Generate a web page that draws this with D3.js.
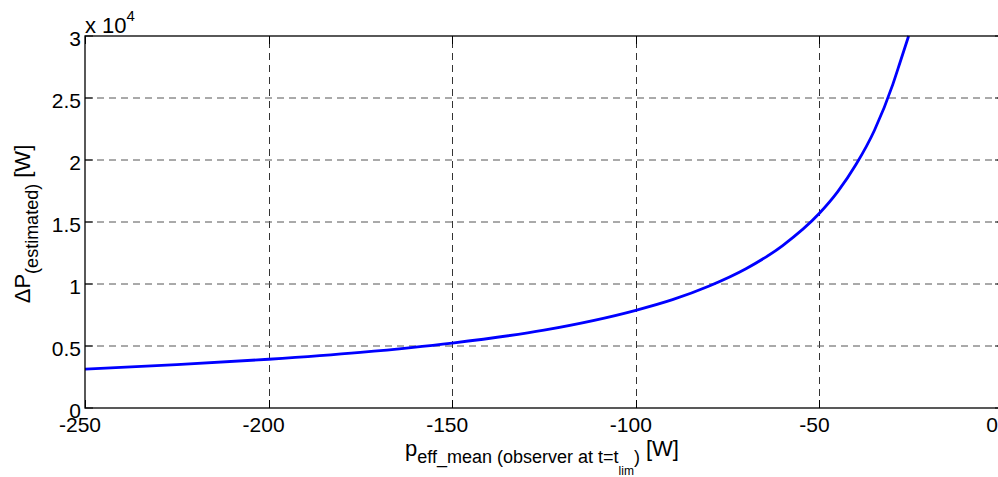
<!DOCTYPE html>
<html>
<head>
<meta charset="utf-8">
<script src="https://cdn.jsdelivr.net/npm/d3@7"></script>
<style>
  html, body { margin: 0; padding: 0; background: #fff; }
  svg { display: block; font-family: "Liberation Sans", Arial, sans-serif; }
</style>
</head>
<body>
<svg id="chart" width="998" height="477"></svg>
<script>
// Estimated power over the mean effective power seen by the observer
const pEffMean = [-250, -225, -200, -175, -150, -125, -100, -90, -80, -70, -60, -50, -45, -40, -35, -30, -28, -25.7];
const deltaP   = [3140, 3490, 3930, 4490, 5240, 6280, 7880, 8740, 9840, 11230, 13100, 15700, 17450, 19650, 22400, 26100, 27900, 30000];

const xTicks = [-250, -200, -150, -100, -50, 0];
const yTicks = [0, 5000, 10000, 15000, 20000, 25000, 30000];
const yTickLabels = ["0", "0.5", "1", "1.5", "2", "2.5", "3"];

const svg = d3.select("#chart");
const W = 998, H = 477;
const m = { left: 85, top: 36, right: 1003, bottom: 408 };

const x = d3.scaleLinear().domain([-250, 0]).range([m.left, m.right]);
const y = d3.scaleLinear().domain([0, 30000]).range([m.bottom, m.top]);

svg.append("rect").attr("width", W).attr("height", H).attr("fill", "#fff");

// dashed grid
const grid = svg.append("g");
grid.selectAll("line.vg").data(xTicks.slice(1, -1)).join("line")
  .attr("class", "vg")
  .attr("x1", d => Math.round(x(d)) + 0.5).attr("x2", d => Math.round(x(d)) + 0.5)
  .attr("y1", m.bottom).attr("y2", m.top)
  .attr("stroke", "#333").attr("stroke-width", 1).attr("stroke-dasharray", "7,5");
grid.selectAll("line.hg").data(yTicks.slice(1, -1)).join("line")
  .attr("class", "hg")
  .attr("y1", d => Math.round(y(d))).attr("y2", d => Math.round(y(d)))
  .attr("x1", m.left).attr("x2", m.right)
  .attr("stroke", "#555").attr("stroke-width", 1).attr("stroke-dasharray", "7,5");

// curve
const line = d3.line().x((d, i) => x(pEffMean[i])).y(d => y(d)).curve(d3.curveMonotoneX);
svg.append("path").datum(deltaP)
  .attr("d", line)
  .attr("fill", "none").attr("stroke", "#0000ff").attr("stroke-width", 2.8);

// axes box
const box = svg.append("g").attr("stroke", "#000").attr("stroke-width", 1.3).attr("fill", "none");
box.append("rect").attr("x", m.left).attr("y", m.top)
  .attr("width", m.right - m.left).attr("height", m.bottom - m.top);

// inward ticks
const tl = 8;
const ticks = svg.append("g").attr("stroke", "#000").attr("stroke-width", 1);
xTicks.forEach(t => {
  const px = Math.round(x(t)) + 0.5;
  ticks.append("line").attr("x1", px).attr("x2", px).attr("y1", m.bottom).attr("y2", m.bottom - tl);
  ticks.append("line").attr("x1", px).attr("x2", px).attr("y1", m.top).attr("y2", m.top + tl);
});
yTicks.forEach(t => {
  const py = Math.round(y(t));
  ticks.append("line").attr("y1", py).attr("y2", py).attr("x1", m.left).attr("x2", m.left + tl);
  ticks.append("line").attr("y1", py).attr("y2", py).attr("x1", m.right).attr("x2", m.right - tl);
});

// tick labels
const fs = 21;
svg.append("g").selectAll("text").data(xTicks).join("text")
  .attr("x", d => Math.min(x(d) - 5, 992)).attr("y", 432)
  .attr("text-anchor", "middle").attr("font-size", fs).attr("fill", "#000")
  .text(d => d);
svg.append("g").selectAll("text").data(yTicks).join("text")
  .attr("x", 81).attr("y", d => y(d) + 10)
  .attr("text-anchor", "end").attr("font-size", fs).attr("fill", "#000")
  .text((d, i) => yTickLabels[i]);

// exponent
const ex = svg.append("text").attr("x", 85).attr("y", 33).attr("font-size", 22).attr("fill", "#000");
ex.append("tspan").text("x 10");
ex.append("tspan").attr("dy", -12).attr("font-size", 15).text("4");

// x label
const xl = svg.append("text").attr("x", 542).attr("y", 456)
  .attr("text-anchor", "middle").attr("font-size", 22).attr("fill", "#000");
xl.append("tspan").text("p");
xl.append("tspan").attr("dy", 7).attr("font-size", 18).text("eff_mean (observer at t=t");
xl.append("tspan").attr("dy", 12).attr("font-size", 12).text("lim");
xl.append("tspan").attr("dy", -12).attr("font-size", 18).text(")");
xl.append("tspan").attr("dy", -7).text(" [W]");

// y label
const yl = svg.append("text")
  .attr("transform", "translate(30,224) rotate(-90)")
  .attr("text-anchor", "middle").attr("font-size", 22).attr("fill", "#000");
yl.append("tspan").text("ΔP");
yl.append("tspan").attr("dy", 8).attr("font-size", 18).text("(estimated)");
yl.append("tspan").attr("dy", -8).text(" [W]");
</script>
</body>
</html>
